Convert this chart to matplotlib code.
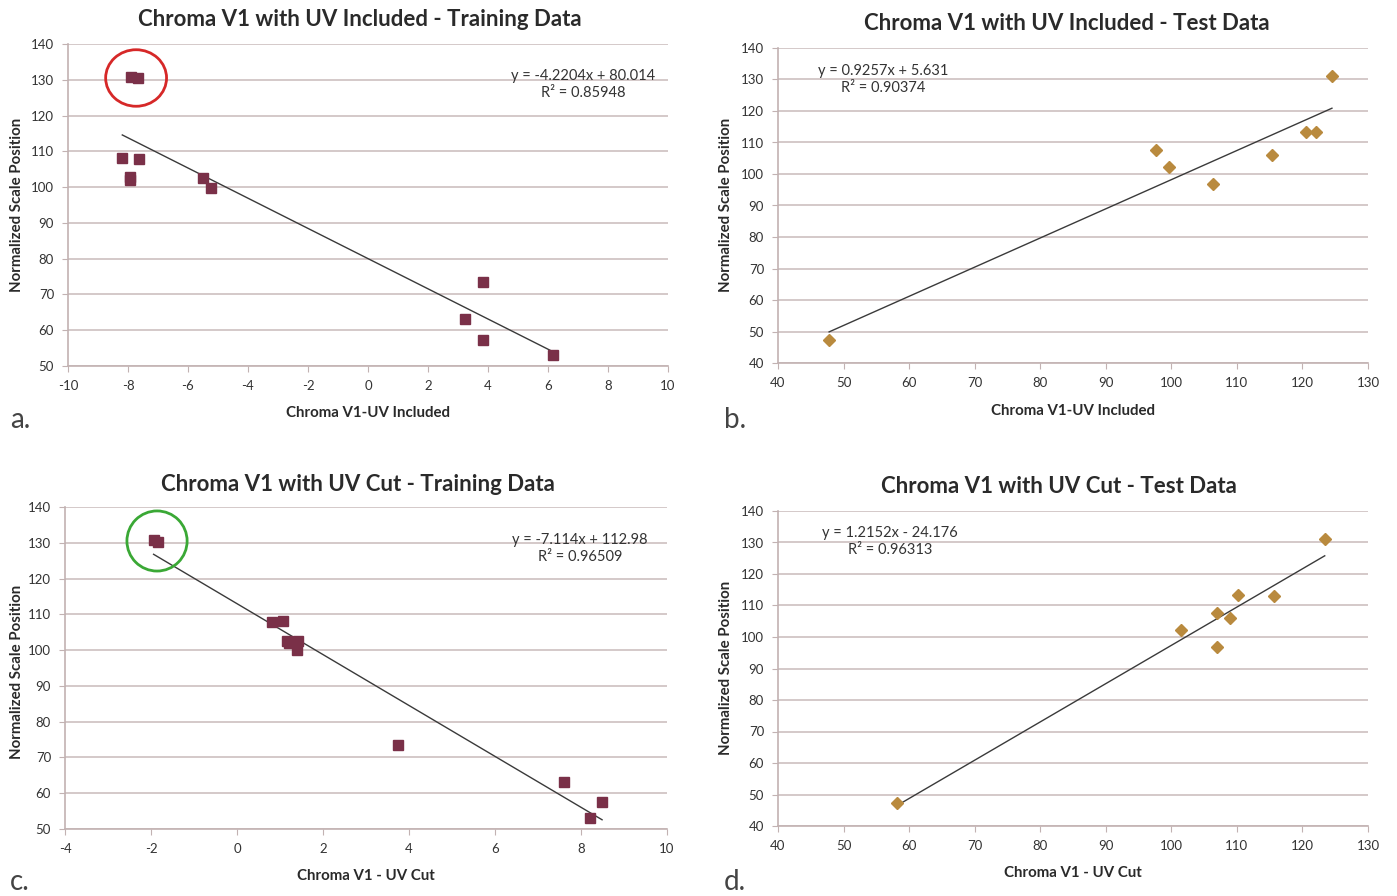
"""Four scatter panels with linear trendlines: Chroma V1 vs normalized scale position."""
import matplotlib

matplotlib.use("Agg")
import matplotlib.pyplot as plt
import numpy as np
from matplotlib.patches import Ellipse

plt.rcParams["axes.unicode_minus"] = False  # Excel-style hyphen minus

# panel a: UV included, training
a_x = [-7.91, -7.68, -8.19, -7.65, -7.93, -7.93, -5.50, -5.25, 3.84, 3.23, 3.84, 6.17]
a_y = [130.8, 130.4, 108.2, 107.9, 102.8, 102.1, 102.6, 99.8, 73.6, 63.1, 57.4, 53.0]
a_fit = (-4.2204, 80.014)
a_eq = ["y = -4.2204x + 80.014", "R² = 0.85948"]

# panel b: UV included, test
b_x = [47.8, 97.7, 99.7, 106.4, 115.4, 120.5, 122.1, 124.5]
b_y = [47.3, 107.6, 102.3, 96.9, 106.0, 113.4, 113.2, 131.2]
b_fit = (0.9257, 5.631)
b_eq = ["y = 0.9257x + 5.631", "R² = 0.90374"]

# panel c: UV cut, training
c_x = [-1.94, -1.83, 0.82, 1.06, 1.17, 1.20, 1.43, 1.40, 3.75, 7.61, 8.49, 8.22]
c_y = [130.7, 130.3, 107.9, 108.1, 102.5, 102.0, 102.5, 99.9, 73.5, 63.1, 57.5, 53.2]
c_fit = (-7.114, 112.98)
c_eq = ["y = -7.114x + 112.98", "R² = 0.96509"]

# panel d: UV cut, test
d_x = [58.1, 101.4, 106.9, 107.0, 108.9, 110.1, 115.6, 123.4]
d_y = [47.3, 102.2, 107.6, 96.9, 105.9, 113.3, 113.0, 131.1]
d_fit = (1.2152, -24.176)
d_eq = ["y = 1.2152x - 24.176", "R² = 0.96313"]

W, H = 1397, 896
FONT = "Lato"
SQUARE = "#7a3048"
DIAMOND = "#b98a3e"
GRID = "#cdc0c0"
SPINE = "#c2b2b2"
TEXT = "#2a2a2a"

fig = plt.figure(figsize=(W / 100, H / 100), dpi=100)
fig.patch.set_facecolor("white")


def px_axes(left, right, top, bottom):
    return fig.add_axes([left / W, 1 - bottom / H, (right - left) / W, (bottom - top) / H])


def fig_text(x, y, s, **kw):
    kw.setdefault("family", FONT)
    kw.setdefault("color", TEXT)
    fig.text(x / W, 1 - y / H, s, **kw)


def panel(ax, xs, ys, fit, marker, color, msize, xlim, xticks, ylim, yticks):
    ax.set_xlim(*xlim)
    ax.set_ylim(*ylim)
    ax.set_xticks(xticks)
    ax.set_yticks(yticks)
    ax.grid(axis="y", color=GRID, lw=1.2)
    ax.set_axisbelow(True)
    for side in ("top", "right"):
        ax.spines[side].set_visible(False)
    for side in ("left", "bottom"):
        ax.spines[side].set_color(SPINE)
        ax.spines[side].set_linewidth(1.2)
    ax.tick_params(length=4, color=SPINE, labelsize=9.5, labelcolor="#333333", pad=6)
    for lab in ax.get_xticklabels() + ax.get_yticklabels():
        lab.set_family(FONT)

    xs = np.array(xs)
    lx = np.array([xs.min(), xs.max()])
    ax.plot(lx, fit[0] * lx + fit[1], color="#3a3a3a", lw=1.0, zorder=2)
    ax.plot(xs, ys, ls="none", marker=marker, ms=msize, color=color, zorder=3)


ax_a = px_axes(68, 668, 44, 366)
panel(ax_a, a_x, a_y, a_fit, "s", SQUARE, 7.5, (-10, 10), range(-10, 11, 2), (50, 140), range(50, 141, 10))
ax_a.add_patch(Ellipse((-7.73, 130.5), 2.03, 15.8, fill=False, ec="#d62828", lw=2, zorder=4))

ax_b = px_axes(778, 1368, 48, 363)
panel(ax_b, b_x, b_y, b_fit, "D", DIAMOND, 6.5, (40, 130), range(40, 131, 10), (40, 140), range(40, 141, 10))

ax_c = px_axes(65, 667, 507, 829)
panel(ax_c, c_x, c_y, c_fit, "s", SQUARE, 7.5, (-4, 10), range(-4, 11, 2), (50, 140), range(50, 141, 10))
ax_c.add_patch(Ellipse((-1.86, 130.5), 1.40, 16.8, fill=False, ec="#3aa835", lw=2, zorder=4))

ax_d = px_axes(778, 1368, 511, 826)
panel(ax_d, d_x, d_y, d_fit, "D", DIAMOND, 6.5, (40, 130), range(40, 131, 10), (40, 140), range(40, 141, 10))

# titles
title_kw = dict(ha="center", va="center", fontsize=16, weight="bold")
fig_text(360, 19, "Chroma V1 with UV Included - Training Data", **title_kw)
fig_text(1067, 24, "Chroma V1 with UV Included - Test Data", **title_kw)
fig_text(358, 484, "Chroma V1 with UV Cut - Training Data", **title_kw)
fig_text(1059, 486, "Chroma V1 with UV Cut - Test Data", **title_kw)

# axis labels
lab_kw = dict(ha="center", va="center", fontsize=10.8, weight="bold")
fig_text(368, 413, "Chroma V1-UV Included", **lab_kw)
fig_text(1073, 411, "Chroma V1-UV Included", **lab_kw)
fig_text(366, 876, "Chroma V1 - UV Cut", **lab_kw)
fig_text(1073, 873, "Chroma V1 - UV Cut", **lab_kw)
for x, y in [(17, 205), (726, 205), (17, 672), (726, 668)]:
    fig_text(x, y, "Normalized Scale Position", rotation=90, **lab_kw)

# trendline equations
eq_kw = dict(ha="center", va="center", fontsize=10.5, color="#333333")
for (cx, y0), eq in [((583, 76), a_eq), ((883, 71), b_eq), ((580, 540), c_eq), ((890, 533), d_eq)]:
    fig_text(cx, y0, eq[0], **eq_kw)
    fig_text(cx, y0 + 17, eq[1], **eq_kw)

# panel letters
let_kw = dict(ha="left", va="center", fontsize=20, color="#444444")
fig_text(10, 420, "a.", **let_kw)
fig_text(724, 420, "b.", **let_kw)
fig_text(10, 882, "c.", **let_kw)
fig_text(724, 882, "d.", **let_kw)

fig.savefig("out.png", dpi=100)
